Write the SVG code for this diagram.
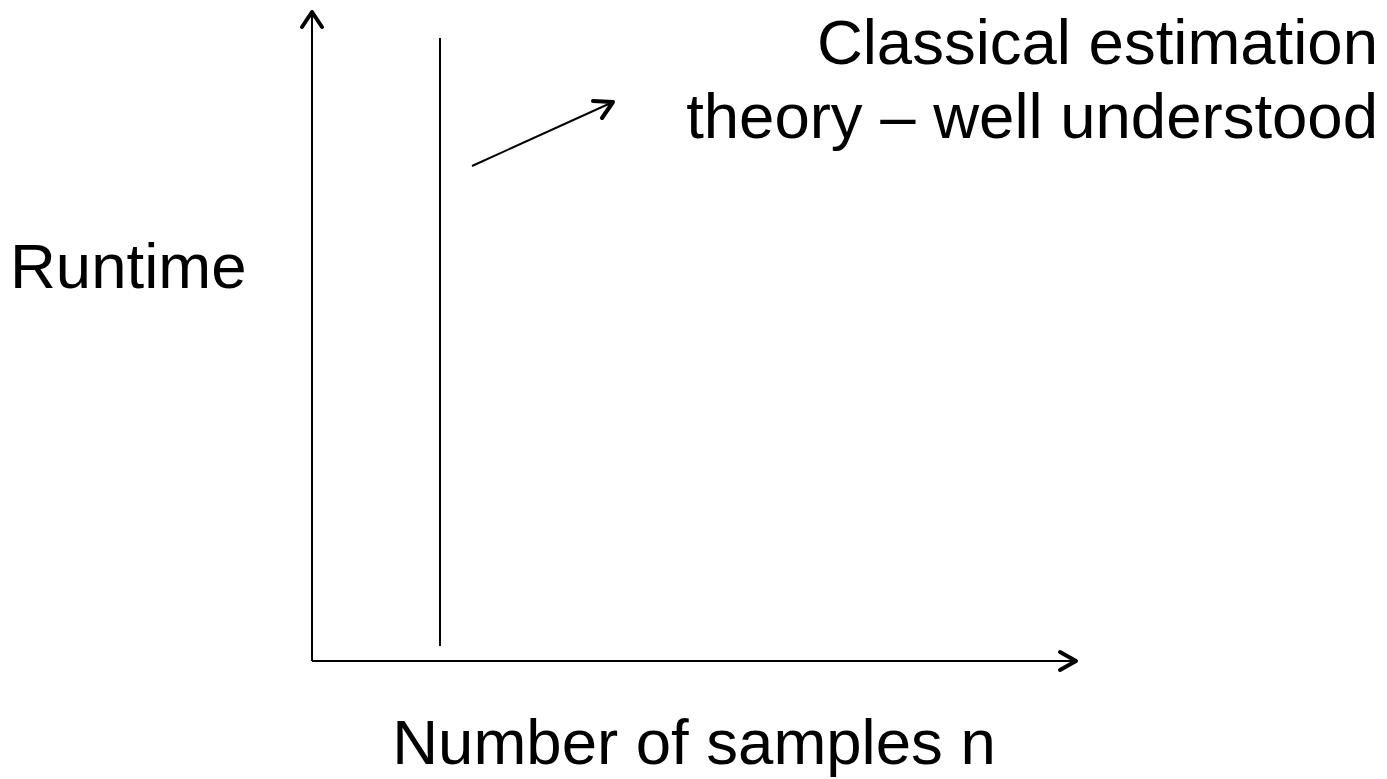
<svg xmlns="http://www.w3.org/2000/svg" width="1387" height="779" viewBox="0 0 1387 779">
<style>
text{font-family:"Liberation Sans",Arial,sans-serif;font-size:63.5px;fill:#000}
.ln{stroke:#000;stroke-width:2;fill:none}
.hd{stroke:#000;stroke-width:4;fill:none;stroke-linecap:round;stroke-linejoin:round}
</style>
<rect width="1387" height="779" fill="#fff"/>
<g id="connectors">
<line class="ln" x1="312" y1="661" x2="312" y2="12"/>
<polyline class="hd" points="302,27 312,12 322,27"/>
<line class="ln" x1="312" y1="661" x2="1076" y2="661"/>
<polyline class="hd" points="1060,652 1076,661 1060,670"/>
<line class="ln" x1="440" y1="38" x2="440" y2="646"/>
<line class="ln" x1="472" y1="166" x2="613" y2="102"/>
<polyline class="hd" points="593,101 613,102 602,118"/>
</g>
<g id="label-runtime"><text x="10" y="288">Runtime</text></g>
<g id="label-classical"><text x="1378" y="64" text-anchor="end">Classical estimation</text><text x="1378" y="138" text-anchor="end">theory – well understood</text></g>
<g id="label-samples"><text x="694" y="764" text-anchor="middle" font-size="65">Number of samples n</text></g>
</svg>
